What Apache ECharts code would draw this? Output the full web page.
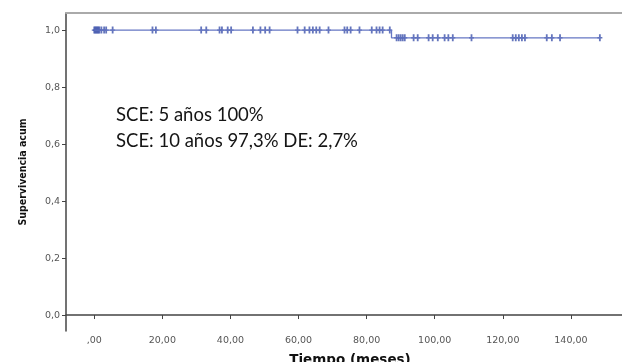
<!DOCTYPE html>
<html><head><meta charset="utf-8">
<script src="https://cdn.jsdelivr.net/npm/echarts@6/dist/echarts.min.js"></script>
<style>html,body{margin:0;padding:0;background:#fff}#c{width:622px;height:362px}</style>
</head><body><div id="c"></div>
<script>
// Kaplan-Meier curve: event times and survival after each step
const curveTimes = [0, 87.3, 148.5];
const curveSurv = [1.0, 0.973, 0.973];
// censored observations (months) at survival 1.0 and 0.973
const censoredHigh = [0, 0.3, 0.6, 0.9, 1.2, 1.5, 2.1, 2.9, 3.5, 5.4, 17.1, 18.1, 31.4, 32.9, 36.8, 37.5, 39.2, 40.2, 46.6, 48.8, 50.2, 51.5, 59.7, 61.8, 63.2, 64.2, 65.2, 66.2, 68.8, 73.5, 74.3, 75.3, 77.9, 81.5, 82.9, 83.8, 84.7, 86.8];
const censoredLow = [88.8, 89.4, 90.0, 90.6, 91.2, 93.8, 95.0, 98.2, 99.4, 100.9, 102.9, 104.0, 105.3, 110.8, 122.9, 123.8, 124.7, 125.6, 126.5, 132.9, 134.4, 136.8, 148.5];
const survHigh = 1.0, survLow = 0.973;
const xTicks = [0, 20, 40, 60, 80, 100, 120, 140];
const yTicks = [0, 0.2, 0.4, 0.6, 0.8, 1.0];
const noteLines = ['SCE: 5 años 100%', 'SCE: 10 años 97,3% DE: 2,7%'];

const chart = echarts.init(document.getElementById('c'));
const fmtX = v => v === 0 ? ',00' : v.toFixed(2).replace('.', ',');
const fmtY = v => v.toFixed(1).replace('.', ',');
const plus = 'path://M1.6,0h1.8v7h-1.8z M0,2.8h5v1.4h-5z';
chart.setOption({
  animation: false,
  grid: {left: 66, top: 13, right: 0, bottom: 31, outerBoundsMode: 'none', containLabel: false},
  xAxis: [{
    type: 'value', min: -8.3, max: 155,
    splitLine: {show: false},
    axisLine: {lineStyle: {color: '#444', width: 1.5}},
    axisTick: {customValues: xTicks, length: 4, lineStyle: {color: '#444'}},
    axisLabel: {customValues: xTicks, formatter: fmtX, color: '#555', fontFamily: 'DejaVu Sans', fontSize: 9.5, margin: 5},
    name: 'Tiempo (meses)', nameLocation: 'middle', nameGap: 22,
    nameTextStyle: {fontFamily: 'DejaVu Sans', fontWeight: 'bold', fontSize: 13.5, color: '#111', padding: [0, 0, 0, 12]}
  }, {
    type: 'value', position: 'top', min: -8.3, max: 155,
    splitLine: {show: false}, axisTick: {show: false}, axisLabel: {show: false},
    axisLine: {show: true, onZero: false, lineStyle: {color: '#aaa', width: 2}}
  }],
  yAxis: {
    type: 'value', min: -0.056, max: 1.06,
    splitLine: {show: false},
    axisLine: {show: true, onZero: false, lineStyle: {color: '#444', width: 1.5}},
    axisTick: {show: true, customValues: yTicks, length: 4, lineStyle: {color: '#444'}},
    axisLabel: {customValues: yTicks, formatter: fmtY, color: '#555', fontFamily: 'DejaVu Sans', fontSize: 9.5, margin: 6},
    name: 'Supervivencia acum', nameLocation: 'middle', nameGap: 37, nameRotate: 90,
    nameTextStyle: {fontFamily: "'DejaVu Sans Condensed', 'Liberation Sans', sans-serif", fontWeight: 'bold', fontSize: 10.5, color: '#111'}
  },
  graphic: [{
    type: 'text', left: 116, top: 102,
    style: {text: noteLines.join('\n'), font: '18.5px Lato', lineHeight: 25.7, fill: '#151515'}
  }],
  series: [{
    type: 'line', step: 'end', symbol: 'none',
    data: curveTimes.map((t, i) => [t, curveSurv[i]]),
    lineStyle: {color: '#6677c4', width: 1.3}
  }, {
    type: 'scatter', symbol: plus, symbolSize: [5, 7],
    data: censoredHigh.map(t => [t, survHigh]),
    itemStyle: {color: '#3d52ab', opacity: 0.8}
  }, {
    type: 'scatter', symbol: plus, symbolSize: [5, 7],
    data: censoredLow.map(t => [t, survLow]),
    itemStyle: {color: '#3d52ab', opacity: 0.8}
  }]
});
</script></body></html>
